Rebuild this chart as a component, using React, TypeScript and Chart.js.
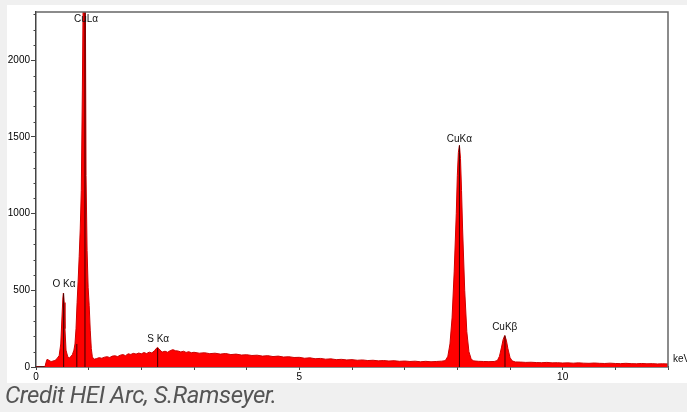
import React, { useEffect, useRef } from 'react';
import { Chart, registerables } from 'chart.js';

Chart.register(...registerables);

// Spectrum: energy (keV) and counts
const energies = [
  0.0, 0.17, 0.19, 0.21, 0.24, 0.27, 0.3, 0.33, 0.36, 0.4, 0.44, 0.47, 0.49, 0.51, 0.52, 0.535, 0.55, 0.57, 0.6, 0.63,
  0.66, 0.69, 0.72, 0.74, 0.76, 0.78, 0.8, 0.82, 0.84, 0.86, 0.88, 0.9, 0.92, 0.935, 0.95, 0.97, 0.99, 1.01, 1.03, 1.05,
  1.07, 1.1, 1.15, 1.2, 1.25, 1.3, 1.35, 1.4, 1.45, 1.5, 1.55, 1.6, 1.65, 1.7, 1.75, 1.8, 1.85, 1.9, 1.95, 2.0,
  2.05, 2.1, 2.15, 2.2, 2.25, 2.28, 2.31, 2.34, 2.37, 2.4, 2.45, 2.5, 2.55, 2.6, 2.65, 2.7, 2.75, 2.8, 2.85, 2.9,
  2.95, 3.0, 3.1, 3.2, 3.3, 3.4, 3.5, 3.6, 3.7, 3.8, 3.9, 4.0, 4.1, 4.2, 4.3, 4.4, 4.5, 4.6, 4.7, 4.8,
  4.9, 5.0, 5.1, 5.2, 5.3, 5.4, 5.5, 5.6, 5.7, 5.8, 5.9, 6.0, 6.1, 6.2, 6.3, 6.4, 6.5, 6.6, 6.7, 6.8,
  6.9, 7.0, 7.1, 7.2, 7.3, 7.4, 7.5, 7.6, 7.7, 7.75, 7.78, 7.82, 7.86, 7.9, 7.94, 7.98, 8.0, 8.02, 8.04, 8.06,
  8.08, 8.1, 8.14, 8.18, 8.22, 8.26, 8.3, 8.4, 8.5, 8.6, 8.7, 8.76, 8.8, 8.84, 8.87, 8.9, 8.93, 8.96, 9.0, 9.04,
  9.1, 9.2, 9.3, 9.4, 9.5, 9.6, 9.7, 9.8, 9.9, 10.0, 10.1, 10.2, 10.3, 10.4, 10.5, 10.6, 10.7, 10.8, 10.9, 11.0,
  11.1, 11.2, 11.3, 11.4, 11.5, 11.6, 11.7, 11.8, 11.9, 12.0,
];
const counts = [
  0, 0, 30, 50, 45, 38, 36, 40, 42, 55, 75, 150, 300, 450, 482, 420, 250, 110, 70, 58,
  68, 80, 110, 150, 250, 420, 560, 720, 900, 1150, 1800, 2600, 2700, 2600, 1250, 760, 520, 400, 240, 120,
  66, 50, 55, 61, 57, 64, 67, 62, 71, 73, 68, 77, 81, 74, 86, 82, 89, 84, 91, 86,
  94, 88, 97, 92, 106, 120, 127, 117, 104, 98, 103, 96, 107, 113, 106, 104, 98, 103, 95, 100,
  93, 96, 90, 93, 87, 90, 84, 88, 81, 84, 78, 80, 75, 77, 71, 74, 68, 71, 65, 67,
  62, 63, 57, 60, 54, 56, 51, 53, 48, 50, 46, 48, 44, 46, 42, 44, 40, 42, 39, 41,
  37, 39, 36, 38, 34, 37, 34, 36, 38, 40, 45, 70, 150, 320, 620, 1000, 1250, 1400, 1445, 1360,
  1150, 900, 500, 230, 100, 55, 40, 37, 36, 35, 36, 42, 70, 130, 180, 205, 175, 120, 62, 40,
  33, 32, 30, 31, 29, 28, 30, 27, 28, 26, 27, 25, 27, 25, 24, 26, 24, 23, 25, 23,
  22, 24, 22, 21, 23, 21, 22, 20, 21, 20,
];

// Peak annotations
const peakNames = ['O K\u03b1', 'CuL\u03b1', 'S K\u03b1', 'CuK\u03b1', 'CuK\u03b2'];
const peakLabelEnergy = [0.53, 0.95, 2.32, 8.04, 8.9];
const peakLabelCount = [537, 2267, 180, 1487, 258];

// Vertical line markers at peak energies
const markerEnergies = [0.525, 0.775, 0.93, 2.31, 8.04, 8.905];
const markerTops = [480, 150, 2700, 125, 1445, 205];

// Axes
const xMin = 0;
const xMax = 12;
const xTickValues = [0, 1, 2, 3, 4, 5, 6, 7, 8, 9, 10, 11, 12];
const xLabelled = [0, 5, 10];
const yMin = 0;
const yMax = 2315;
const yMajorTicks = [0, 500, 1000, 1500, 2000];
const yMinorTicks = [100, 200, 300, 400, 600, 700, 800, 900, 1100, 1200, 1300, 1400, 1600, 1700, 1800, 1900, 2100, 2200, 2300];
const unitLabel = 'keV';
const unitLabelCount = 48;

const FONT = '"Liberation Sans", Arial, sans-serif';

export default function App() {
  const canvasRef = useRef<HTMLCanvasElement | null>(null);

  useEffect(() => {
    const canvas = canvasRef.current;
    if (!canvas) return;

    const overlay = {
      id: 'overlay',
      afterDatasetsDraw(chart: any) {
        const { ctx, chartArea: a, scales } = chart;
        const x = scales.x;
        const y = scales.y;
        ctx.save();
        // frame top & right
        ctx.strokeStyle = '#666666';
        ctx.lineWidth = 1.5;
        ctx.beginPath();
        ctx.moveTo(a.left, a.top);
        ctx.lineTo(a.right, a.top);
        ctx.lineTo(a.right, a.bottom);
        ctx.stroke();
        // peak labels
        ctx.font = `10px ${FONT}`;
        ctx.fillStyle = '#111';
        ctx.textAlign = 'center';
        ctx.textBaseline = 'middle';
        peakNames.forEach((n, i) => {
          ctx.fillText(n, x.getPixelForValue(peakLabelEnergy[i]), y.getPixelForValue(peakLabelCount[i]));
        });
        ctx.restore();
      },
      afterDraw(chart: any) {
        const { ctx, chartArea: a, scales } = chart;
        const y = scales.y;
        ctx.save();
        // minor y ticks
        ctx.strokeStyle = '#444';
        ctx.lineWidth = 1;
        yMinorTicks.forEach((v) => {
          const py = Math.round(y.getPixelForValue(v)) + 0.5;
          ctx.beginPath();
          ctx.moveTo(a.left - 2.5, py);
          ctx.lineTo(a.left, py);
          ctx.stroke();
        });
        // unit label
        ctx.font = `10px ${FONT}`;
        ctx.fillStyle = '#111';
        ctx.textAlign = 'left';
        ctx.textBaseline = 'middle';
        ctx.fillText(unitLabel, a.right + 5, y.getPixelForValue(unitLabelCount));
        ctx.restore();
      },
    };

    const spectrum = energies.map((e, i) => ({ x: e, y: counts[i] }));
    const markerSets = markerEnergies.map((e, i) => ({
      data: [
        { x: e, y: 0 },
        { x: e, y: markerTops[i] },
      ],
      borderColor: '#3a0000',
      borderWidth: 1,
      pointRadius: 0,
      fill: false,
    }));

    const chart = new Chart(canvas, {
      type: 'line',
      data: {
        datasets: [
          ...markerSets,
          {
            data: spectrum,
            borderColor: '#cc0000',
            backgroundColor: '#ff0000',
            borderWidth: 1,
            pointRadius: 0,
            fill: 'origin',
            tension: 0,
          } as any,
        ],
      },
      options: {
        responsive: false,
        animation: false,
        events: [],
        layout: { padding: { top: 6, right: 19, left: 0, bottom: 0 } },
        plugins: { legend: { display: false }, tooltip: { enabled: false } },
        scales: {
          x: {
            type: 'linear',
            min: xMin,
            max: xMax,
            border: { display: true, color: '#111', width: 1.5 },
            grid: { display: true, drawOnChartArea: false, drawTicks: true, tickLength: 3, color: '#444' },
            afterBuildTicks: (s: any) => {
              s.ticks = xTickValues.map((v) => ({ value: v }));
            },
            ticks: {
              autoSkip: false,
              maxRotation: 0,
              padding: 1,
              color: '#000',
              font: { family: FONT, size: 10 },
              callback: (v: any) => (xLabelled.includes(Number(v)) ? String(v) : ''),
            },
            afterFit: (s: any) => {
              s.height = 16;
            },
          },
          y: {
            type: 'linear',
            min: yMin,
            max: yMax,
            border: { display: true, color: '#444', width: 1.5 },
            grid: { display: true, drawOnChartArea: false, drawTicks: true, tickLength: 5, color: '#444' },
            afterBuildTicks: (s: any) => {
              s.ticks = yMajorTicks.map((v) => ({ value: v }));
            },
            ticks: {
              autoSkip: false,
              padding: 1,
              color: '#000',
              font: { family: FONT, size: 10 },
              callback: (v: any) => String(v),
            },
            afterFit: (s: any) => {
              s.width = 29;
            },
          },
        },
      },
      plugins: [overlay],
    });

    return () => chart.destroy();
  }, []);

  return (
    <div
      style={{
        position: 'absolute',
        left: 0,
        top: 0,
        width: 687,
        height: 412,
        background: '#f0f0f0',
        overflow: 'hidden',
      }}
    >
      <div style={{ position: 'absolute', left: 7, top: 5, width: 680, height: 378, background: '#ffffff' }}>
        <canvas ref={canvasRef} width={680} height={378} style={{ width: 680, height: 378, display: 'block' }} />
      </div>
      <div
        style={{
          position: 'absolute',
          left: 5,
          top: 381,
          fontFamily: '"Liberation Sans Narrow", Roboto, sans-serif',
          fontStyle: 'italic',
          fontSize: 24,
          letterSpacing: -0.4,
          color: '#555555',
          whiteSpace: 'nowrap',
        }}
      >
        Credit HEI Arc, S.Ramseyer.
      </div>
    </div>
  );
}
